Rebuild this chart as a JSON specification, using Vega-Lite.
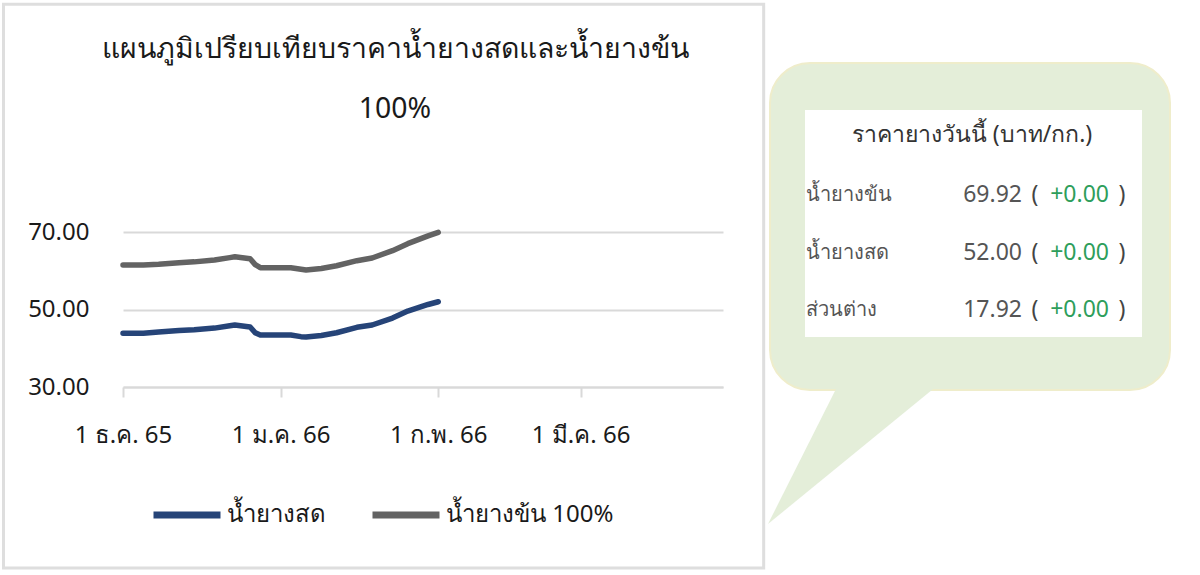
{
  "$schema": "https://vega.github.io/schema/vega-lite/v6.json",
  "padding": {"left": 2, "top": 2, "right": 0, "bottom": 0},
  "spacing": 2,
  "background": "white",
  "config": {"view": {"stroke": null}, "font": "Noto Sans"},
  "datasets": {
    "prices": [
      {"date": "2022/12/01", "series": "น้ำยางข้น 100%", "price": 61.5},
      {"date": "2022/12/05", "series": "น้ำยางข้น 100%", "price": 61.5},
      {"date": "2022/12/08", "series": "น้ำยางข้น 100%", "price": 61.7},
      {"date": "2022/12/12", "series": "น้ำยางข้น 100%", "price": 62.1},
      {"date": "2022/12/15", "series": "น้ำยางข้น 100%", "price": 62.3},
      {"date": "2022/12/19", "series": "น้ำยางข้น 100%", "price": 62.8},
      {"date": "2022/12/22", "series": "น้ำยางข้น 100%", "price": 63.4},
      {"date": "2022/12/23", "series": "น้ำยางข้น 100%", "price": 63.6},
      {"date": "2022/12/26", "series": "น้ำยางข้น 100%", "price": 63.1},
      {"date": "2022/12/27", "series": "น้ำยางข้น 100%", "price": 61.6},
      {"date": "2022/12/28", "series": "น้ำยางข้น 100%", "price": 60.8},
      {"date": "2023/01/03", "series": "น้ำยางข้น 100%", "price": 60.8},
      {"date": "2023/01/05", "series": "น้ำยางข้น 100%", "price": 60.4},
      {"date": "2023/01/06", "series": "น้ำยางข้น 100%", "price": 60.2},
      {"date": "2023/01/09", "series": "น้ำยางข้น 100%", "price": 60.6},
      {"date": "2023/01/12", "series": "น้ำยางข้น 100%", "price": 61.3},
      {"date": "2023/01/16", "series": "น้ำยางข้น 100%", "price": 62.6},
      {"date": "2023/01/19", "series": "น้ำยางข้น 100%", "price": 63.3},
      {"date": "2023/01/23", "series": "น้ำยางข้น 100%", "price": 65.2},
      {"date": "2023/01/26", "series": "น้ำยางข้น 100%", "price": 67.0},
      {"date": "2023/01/30", "series": "น้ำยางข้น 100%", "price": 69.0},
      {"date": "2023/02/01", "series": "น้ำยางข้น 100%", "price": 69.92},
      {"date": "2022/12/01", "series": "น้ำยางสด", "price": 43.9},
      {"date": "2022/12/05", "series": "น้ำยางสด", "price": 43.9},
      {"date": "2022/12/08", "series": "น้ำยางสด", "price": 44.2},
      {"date": "2022/12/12", "series": "น้ำยางสด", "price": 44.6},
      {"date": "2022/12/15", "series": "น้ำยางสด", "price": 44.8},
      {"date": "2022/12/19", "series": "น้ำยางสด", "price": 45.2},
      {"date": "2022/12/22", "series": "น้ำยางสด", "price": 45.8},
      {"date": "2022/12/23", "series": "น้ำยางสด", "price": 46.0},
      {"date": "2022/12/26", "series": "น้ำยางสด", "price": 45.5},
      {"date": "2022/12/27", "series": "น้ำยางสด", "price": 44.0},
      {"date": "2022/12/28", "series": "น้ำยางสด", "price": 43.4},
      {"date": "2023/01/03", "series": "น้ำยางสด", "price": 43.4},
      {"date": "2023/01/05", "series": "น้ำยางสด", "price": 43.0},
      {"date": "2023/01/06", "series": "น้ำยางสด", "price": 42.9},
      {"date": "2023/01/09", "series": "น้ำยางสด", "price": 43.3},
      {"date": "2023/01/12", "series": "น้ำยางสด", "price": 44.0},
      {"date": "2023/01/16", "series": "น้ำยางสด", "price": 45.4},
      {"date": "2023/01/19", "series": "น้ำยางสด", "price": 46.0},
      {"date": "2023/01/23", "series": "น้ำยางสด", "price": 47.8},
      {"date": "2023/01/26", "series": "น้ำยางสด", "price": 49.6},
      {"date": "2023/01/30", "series": "น้ำยางสด", "price": 51.3},
      {"date": "2023/02/01", "series": "น้ำยางสด", "price": 52.0}
    ],
    "today": [
      {"label": "น้ำยางข้น", "price": 69.92, "change": 0},
      {"label": "น้ำยางสด", "price": 52.0, "change": 0},
      {"label": "ส่วนต่าง", "price": 17.92, "change": 0}
    ],
    "one": [{}]
  },
  "hconcat": [
    {
      "width": 600,
      "height": 277,
      "title": {
        "text": ["แผนภูมิเปรียบเทียบราคาน้ำยางสดและน้ำยางข้น", "100%"],
        "fontSize": 28.4,
        "fontWeight": "normal",
        "lineHeight": 60,
        "offset": -122,
        "dx": -28,
        "color": "#1a1a1a"
      },
      "layer": [
        {
          "data": {"name": "one"},
          "mark": {"type": "rect", "filled": false, "fillOpacity": 0, "stroke": "#dedede", "strokeWidth": 3},
          "encoding": {
            "x": {"datum": {"year": 2022, "month": 11, "date": 7, "hours": 12}, "type": "temporal"},
            "x2": {"datum": {"year": 2023, "month": 4, "date": 6}},
            "y": {"datum": 128.8, "type": "quantitative"},
            "y2": {"datum": -16.7}
          }
        },
        {
          "data": {"name": "prices"},
          "mark": {"type": "line", "strokeWidth": 5.5, "strokeCap": "round", "strokeJoin": "round"},
          "encoding": {
            "x": {
              "field": "date",
              "type": "temporal",
              "scale": {"domain": [{"year": 2022, "month": 12, "date": 1}, {"year": 2023, "month": 3, "date": 29}]},
              "axis": {
                "title": null,
                "values": [
                  {"year": 2022, "month": 12, "date": 1},
                  {"year": 2023, "month": 1, "date": 1},
                  {"year": 2023, "month": 2, "date": 1},
                  {"year": 2023, "month": 3, "date": 1}
                ],
                "labelExpr": "'1 ' + ['ม.ค.','ก.พ.','มี.ค.','เม.ย.','พ.ค.','มิ.ย.','ก.ค.','ส.ค.','ก.ย.','ต.ค.','พ.ย.','ธ.ค.'][month(datum.value)] + ' ' + (year(datum.value) - 1957)",
                "labelFontSize": 24,
                "labelColor": "#1a1a1a",
                "labelFlush": false,
                "labelOverlap": false,
                "labelPadding": 26,
                "grid": false,
                "domainColor": "#d9d9d9",
                "domainWidth": 2,
                "tickColor": "#d9d9d9",
                "tickWidth": 2,
                "tickSize": 10
              }
            },
            "y": {
              "field": "price",
              "type": "quantitative",
              "scale": {"domain": [30, 101.5], "nice": false, "zero": false},
              "axis": {
                "title": null,
                "values": [30, 50, 70],
                "format": ".2f",
                "labelFontSize": 24,
                "labelColor": "#1a1a1a",
                "labelPadding": 34,
                "ticks": false,
                "domain": false,
                "grid": true,
                "gridColor": "#d9d9d9",
                "gridWidth": 2
              }
            },
            "color": {
              "field": "series",
              "type": "nominal",
              "scale": {"domain": ["น้ำยางสด", "น้ำยางข้น 100%"], "range": ["#264478", "#636363"]},
              "legend": {
                "orient": "none",
                "legendX": 27,
                "legendY": 368,
                "direction": "horizontal",
                "title": null,
                "symbolType": "stroke",
                "symbolSize": 4489,
                "symbolStrokeWidth": 7,
                "labelFontSize": 24,
                "labelColor": "#1a1a1a",
                "labelLimit": 400,
                "labelOffset": 3,
                "columnPadding": 32
              }
            }
          }
        }
      ]
    },
    {
      "width": 337,
      "height": 227,
      "layer": [
        {
          "data": {"name": "one"},
          "mark": {"type": "rect", "fill": "#e4eed9", "stroke": "#efedcb", "strokeWidth": 2, "cornerRadius": 40},
          "encoding": {
            "x": {"datum": -35, "type": "quantitative", "scale": {"domain": [0, 337], "nice": false, "zero": false}, "axis": null},
            "x2": {"datum": 365},
            "y": {"datum": -47, "type": "quantitative", "scale": {"domain": [0, 227], "nice": false, "zero": false, "reverse": true}, "axis": null},
            "y2": {"datum": 280}
          }
        },
        {
          "data": {"name": "one"},
          "mark": {"type": "point", "shape": "M-1,0.817L-0.177,-0.817L0.999,-0.817Z", "filled": true, "fill": "#e4eed9", "opacity": 1, "size": 34596, "strokeWidth": 0},
          "encoding": {
            "x": {"datum": 56, "type": "quantitative", "scale": {"domain": [0, 337], "nice": false, "zero": false}, "axis": null},
            "y": {"datum": 338, "type": "quantitative", "scale": {"domain": [0, 227], "nice": false, "zero": false, "reverse": true}, "axis": null}
          }
        },
        {
          "data": {"name": "one"},
          "mark": {"type": "rect", "fill": "white"},
          "encoding": {
            "x": {"datum": 0, "type": "quantitative", "scale": {"domain": [0, 337], "nice": false, "zero": false}, "axis": null},
            "x2": {"datum": 337},
            "y": {"datum": 0, "type": "quantitative", "scale": {"domain": [0, 227], "nice": false, "zero": false, "reverse": true}, "axis": null},
            "y2": {"datum": 227}
          }
        },
        {
          "data": {"name": "one"},
          "mark": {"type": "text", "text": "ราคายางวันนี้ (บาท/กก.)", "fontSize": 23, "color": "#333333", "align": "center", "baseline": "middle"},
          "encoding": {
            "x": {"datum": 167, "type": "quantitative", "scale": {"domain": [0, 337], "nice": false, "zero": false}, "axis": null},
            "y": {"datum": 25, "type": "quantitative", "scale": {"domain": [0, 227], "nice": false, "zero": false, "reverse": true}, "axis": null}
          }
        },
        {
          "data": {"name": "today"},
          "mark": {"type": "text", "fontSize": 20, "color": "#555555", "align": "left", "baseline": "middle"},
          "encoding": {
            "x": {"datum": 1, "type": "quantitative", "scale": {"domain": [0, 337], "nice": false, "zero": false}, "axis": null},
            "y": {"field": "label", "type": "nominal", "scale": {"type": "point", "domain": ["น้ำยางข้น", "น้ำยางสด", "ส่วนต่าง"], "padding": 0.974, "align": 0.759}, "axis": null},
            "text": {"field": "label"}
          }
        },
        {
          "data": {"name": "today"},
          "mark": {"type": "text", "fontSize": 23, "color": "#555555", "align": "right", "baseline": "middle"},
          "encoding": {
            "x": {"datum": 217, "type": "quantitative", "scale": {"domain": [0, 337], "nice": false, "zero": false}, "axis": null},
            "y": {"field": "label", "type": "nominal", "scale": {"type": "point", "domain": ["น้ำยางข้น", "น้ำยางสด", "ส่วนต่าง"], "padding": 0.974, "align": 0.759}, "axis": null},
            "text": {"field": "price", "format": ".2f"}
          }
        },
        {
          "data": {"name": "today"},
          "mark": {"type": "text", "text": "(", "fontSize": 23, "color": "#444444", "align": "center", "baseline": "middle"},
          "encoding": {
            "x": {"datum": 230, "type": "quantitative", "scale": {"domain": [0, 337], "nice": false, "zero": false}, "axis": null},
            "y": {"field": "label", "type": "nominal", "scale": {"type": "point", "domain": ["น้ำยางข้น", "น้ำยางสด", "ส่วนต่าง"], "padding": 0.974, "align": 0.759}, "axis": null}
          }
        },
        {
          "data": {"name": "today"},
          "mark": {"type": "text", "fontSize": 23, "color": "#2e9e5b", "align": "right", "baseline": "middle"},
          "encoding": {
            "x": {"datum": 304, "type": "quantitative", "scale": {"domain": [0, 337], "nice": false, "zero": false}, "axis": null},
            "y": {"field": "label", "type": "nominal", "scale": {"type": "point", "domain": ["น้ำยางข้น", "น้ำยางสด", "ส่วนต่าง"], "padding": 0.974, "align": 0.759}, "axis": null},
            "text": {"field": "change", "format": "+.2f"}
          }
        },
        {
          "data": {"name": "today"},
          "mark": {"type": "text", "text": ")", "fontSize": 23, "color": "#444444", "align": "center", "baseline": "middle"},
          "encoding": {
            "x": {"datum": 317, "type": "quantitative", "scale": {"domain": [0, 337], "nice": false, "zero": false}, "axis": null},
            "y": {"field": "label", "type": "nominal", "scale": {"type": "point", "domain": ["น้ำยางข้น", "น้ำยางสด", "ส่วนต่าง"], "padding": 0.974, "align": 0.759}, "axis": null}
          }
        }
      ],
      "resolve": {"scale": {"y": "independent"}}
    }
  ]
}
